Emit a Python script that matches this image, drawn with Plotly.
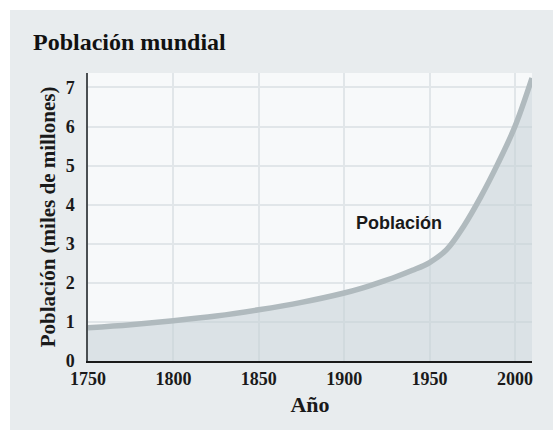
import plotly.graph_objects as go

years = [1750, 1775, 1800, 1825, 1850, 1875, 1900, 1910, 1920, 1930, 1940, 1950, 1960, 1970, 1980, 1990, 2000, 2010]
population = [0.85, 0.93, 1.03, 1.15, 1.31, 1.5, 1.74, 1.86, 2.0, 2.15, 2.32, 2.52, 2.85, 3.45, 4.2, 5.05, 6.0, 7.24]
x_ticks = [1750, 1800, 1850, 1900, 1950, 2000]
y_ticks = [0, 1, 2, 3, 4, 5, 6, 7]

serif = "Liberation Serif"
sans = "Liberation Sans"

fig = go.Figure()
fig.add_trace(go.Scatter(
    x=years, y=population, mode="lines",
    line=dict(color="#b0babe", width=5.5, shape="spline", smoothing=1.0),
    fill="tozeroy", fillcolor="rgba(196,207,213,0.55)",
    hoverinfo="skip", showlegend=False,
))

fig.add_annotation(x=1932, y=3.52, text="<b>Población</b>", showarrow=False,
                   font=dict(family=sans, size=18, color="#1a1a1a"))

W, H = 444, 288
L, T = 88, 73
shapes = [
    dict(type="rect", xref="paper", yref="paper", x0=-L / W, x1=(553 - L) / W,
         y0=(T + H - 10) / H, y1=(T + H) / H, fillcolor="white", line_width=0, layer="below"),
    dict(type="rect", xref="paper", yref="paper", x0=-L / W, x1=(10 - L) / W,
         y0=(T + H - 430) / H, y1=(T + H) / H, fillcolor="white", line_width=0, layer="below"),
]

fig.update_layout(
    width=553, height=430,
    margin=dict(l=L, r=553 - L - W, t=T, b=430 - T - H),
    paper_bgcolor="#e8ecee",
    plot_bgcolor="#f7f9fa",
    shapes=shapes,
    title=dict(text="<b>Población mundial</b>", x=33 / 553, xanchor="left",
               y=1 - 42 / 430, yanchor="middle",
               font=dict(family=serif, size=24, color="#111")),
    xaxis=dict(range=[1750, 2010], tickvals=x_ticks, ticktext=[str(v) for v in x_ticks],
               showgrid=True, gridcolor="#e1e6e9", gridwidth=1.5, zeroline=False,
               showline=True, linecolor="#1a1a1a", linewidth=2, ticks="",
               tickfont=dict(family=serif, size=18, color="#1a1a1a", weight="bold"),
               title=dict(text="<b>Año</b>", font=dict(family=serif, size=22, color="#1a1a1a"), standoff=9),
               fixedrange=True),
    yaxis=dict(range=[0, 7.37], tickvals=y_ticks, showgrid=True, gridcolor="#e1e6e9", gridwidth=1.5,
               zeroline=False, showline=True, linecolor="#4a4f52", linewidth=1.5, ticks="",
               ticklabelstandoff=8,
               tickfont=dict(family=serif, size=18, color="#1a1a1a", weight="bold"),
               title=dict(text="<b>Población (miles de millones)</b>",
                          font=dict(family=serif, size=21, color="#1a1a1a"), standoff=4),
               fixedrange=True),
)

fig.write_html("out.html")
